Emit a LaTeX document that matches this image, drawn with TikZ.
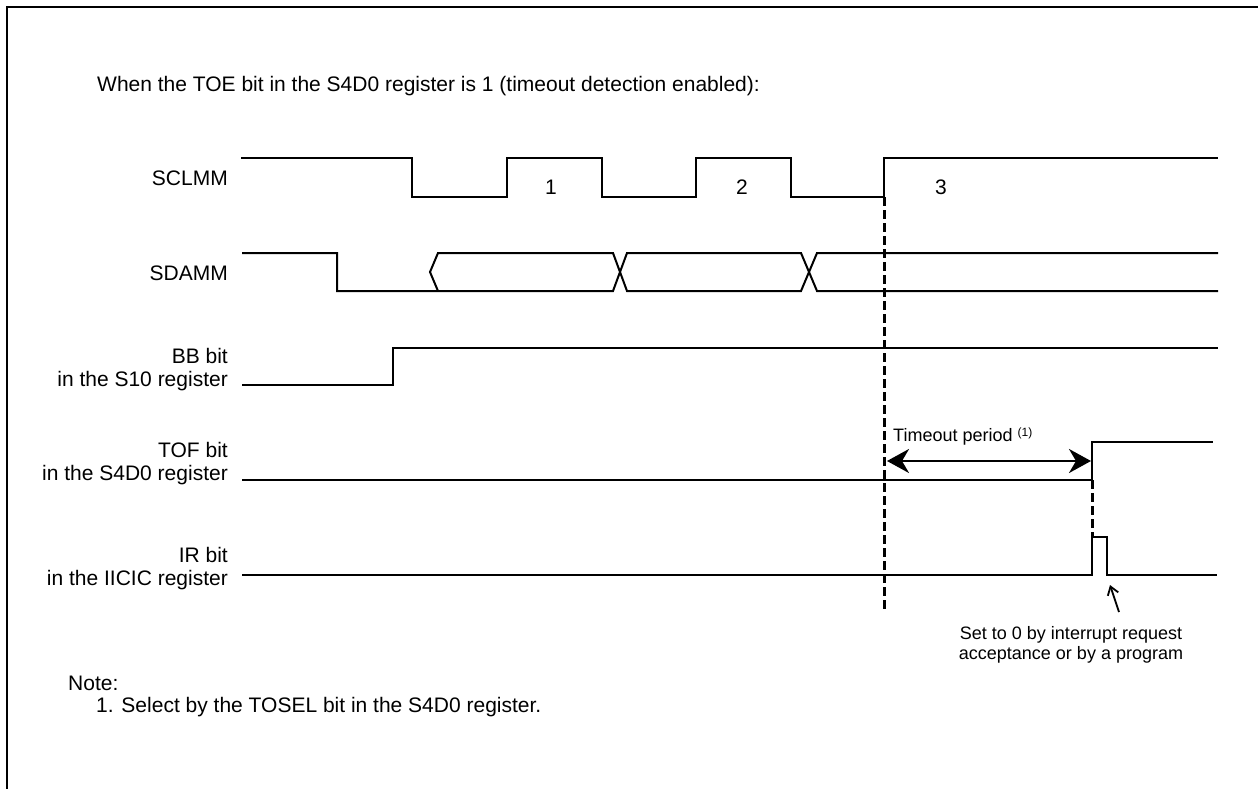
\documentclass[tikz,border=0pt]{standalone}
\usepackage{fontspec}
\setmainfont{Liberation Sans}
\usetikzlibrary{arrows.meta}
\tikzset{
  wave/.style={line width=2pt, line join=miter},
  guide/.style={line width=3pt, dash pattern=on 9pt off 4pt},
  sig/.style={font=\fontsize{21}{23}\selectfont, inner sep=0pt, align=right, anchor=east},
  bigtxt/.style={font=\fontsize{21}{23}\selectfont, inner sep=0pt, anchor=base west},
  numtxt/.style={font=\fontsize{21}{22}\selectfont, inner sep=0pt},
  smalltxt/.style={font=\fontsize{18}{20}\selectfont, inner sep=0pt},
  frameline/.style={line width=2pt}
}
\begin{document}
\begin{tikzpicture}[x=1pt,y=-1pt]
\useasboundingbox (0,0) rectangle (1258,789);
% frame (top and left edges)
\draw[frameline] (7,789) -- (7,7) -- (1258,7);

% heading
\node[bigtxt] (head) at (97,92) {When the TOE bit in the S4D0 register is 1 (timeout detection enabled):};

% signal labels
\node[sig] (lscl) at (228,178) {SCLMM};
\node[sig] (lsda) at (228,273) {SDAMM};
\node[sig] (lbb) at (228,370) {BB bit\\in the S10 register};
\node[sig] (ltof) at (228,463.5) {TOF bit\\in the S4D0 register};
\node[sig] (lir) at (228,568.5) {IR bit\\in the IICIC register};

% SCLMM
\draw[wave] (241,158) -- (412,158) -- (412,197) -- (507,197) -- (507,158) -- (602,158)
  -- (602,197) -- (696,197) -- (696,158) -- (791,158) -- (791,197) -- (884,197)
  -- (884,158) -- (1218,158);
\node[numtxt] (n1) at (551,187) {1};
\node[numtxt] (n2) at (742,187) {2};
\node[numtxt] (n3) at (941,187) {3};

% SDAMM
\draw[wave] (242,253) -- (337,253) -- (337,291) -- (613,291) -- (627,253) -- (801,253)
  -- (817,291) -- (1218,291);
\draw[wave] (438,291) -- (430,272) -- (438,253) -- (613,253) -- (627,291) -- (801,291)
  -- (817,253) -- (1218,253);

% BB
\draw[wave] (242,385) -- (393,385) -- (393,348) -- (1218,348);

% TOF
\coordinate (tofrise) at (1092,480);
\draw[wave] (242,480) -- (tofrise) -- (1092,442) -- (1213,442);

% IR
\coordinate (irtop) at (1092,537);
\draw[wave] (242,575) -- (1092,575) -- (irtop) -- (1107,537) -- (1107,575) -- (1217,575);

% guides
\coordinate (g1a) at (884,197);
\coordinate (g1b) at (884,612);
\draw[guide] (g1a) -- (g1b);
\draw[guide] (tofrise) -- (irtop);

% timeout period
\coordinate (ta) at (887,461);
\coordinate (tb) at (1091,461);
\draw[line width=2.5pt, {Stealth[length=22pt,width=24pt,inset=7pt]}-{Stealth[length=22pt,width=24pt,inset=7pt]}] (ta) -- (tb);
\node[smalltxt, anchor=base west] (tlab) at (893,441) {Timeout period \raisebox{5pt}{\fontsize{12}{12}\selectfont (1)}};

% set-to-0 note
\coordinate (sa) at (1119,612);
\coordinate (sb) at (1110,585);
\draw[line width=1.8pt, -{Straight Barb[length=8pt,width=11pt]}] (sa) -- (sb);
\node[smalltxt, align=center] (setlab) at (1071,645) {Set to 0 by interrupt request\\acceptance or by a program};

% note
\node[bigtxt] (note) at (68,690.5) {Note:};
\node[bigtxt] (note1) at (96,712.5) {1. Select by the TOSEL bit in the S4D0 register.};
\end{tikzpicture}
\end{document}
